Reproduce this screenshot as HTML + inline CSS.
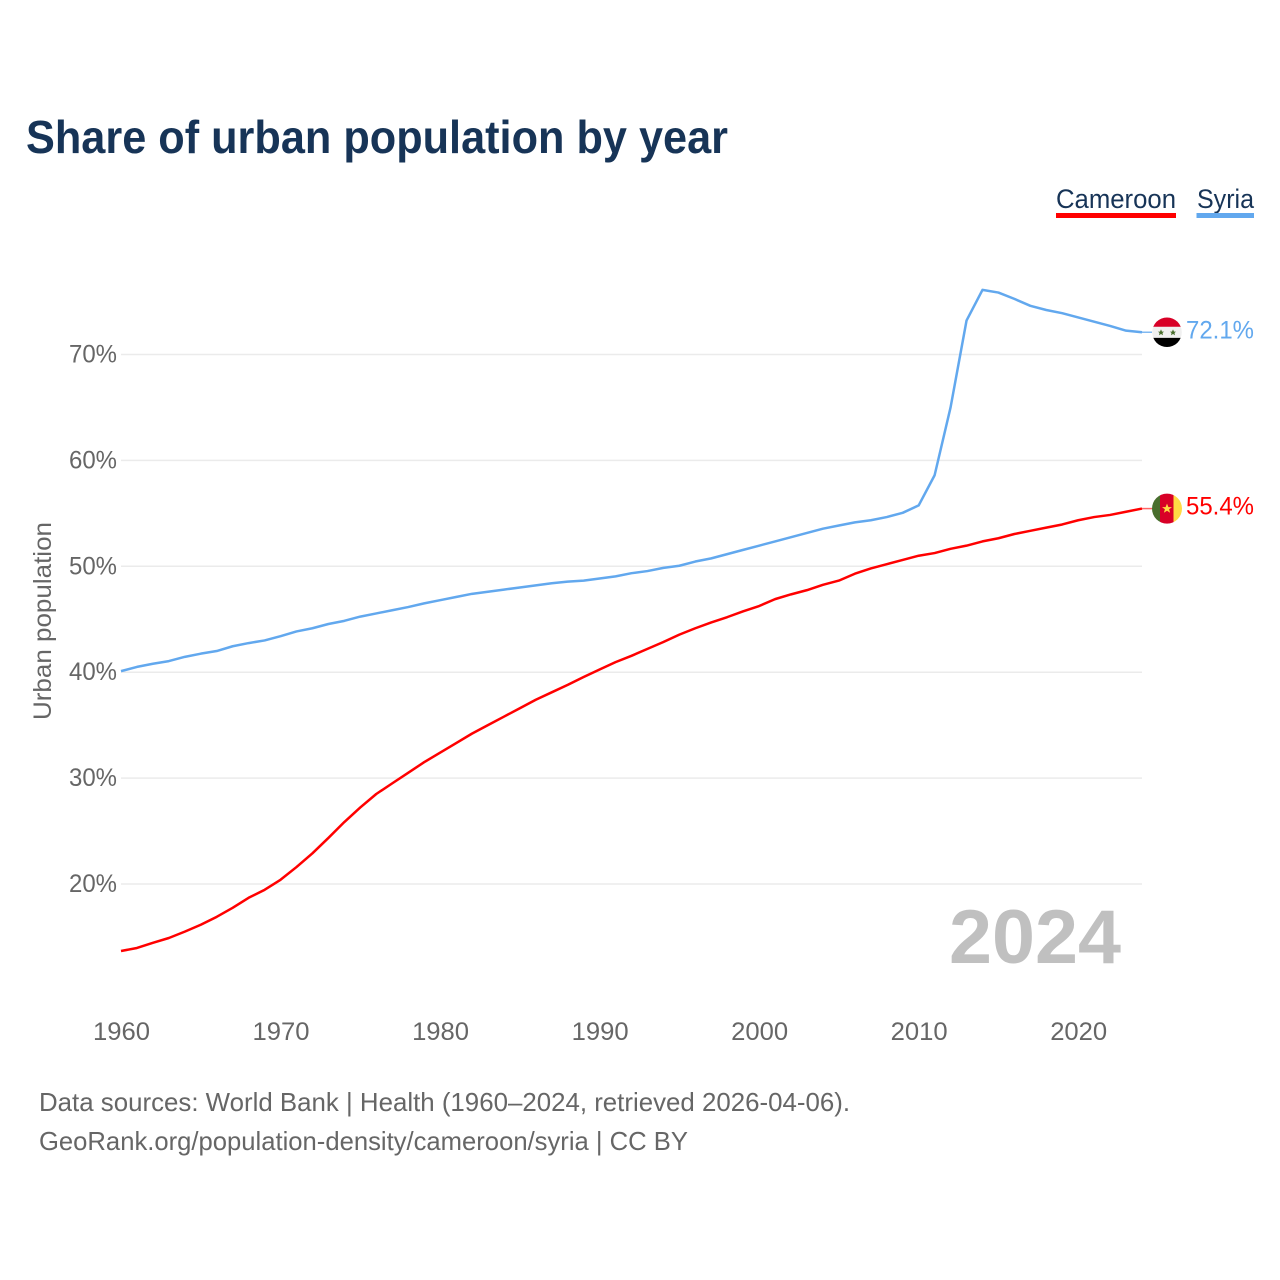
<!DOCTYPE html>
<html>
<head>
<meta charset="utf-8">
<title>Share of urban population by year</title>
<style>
html,body{margin:0;padding:0;background:#fff;}
svg{display:block;font-family:"Liberation Sans",sans-serif;}
</style>
</head>
<body>
<svg id="chart" xmlns="http://www.w3.org/2000/svg" width="1280" height="1280" viewBox="0 0 1280 1280">
  <rect x="0" y="0" width="1280" height="1280" fill="#ffffff"/>
  <text x="26" y="153" font-size="46" font-weight="700" fill="#173457" textLength="702" lengthAdjust="spacingAndGlyphs">Share of urban population by year</text>

  <g>
    <g>
      <text x="1056" y="208" font-size="27" fill="#173457" textLength="120" lengthAdjust="spacingAndGlyphs">Cameroon</text>
      <rect x="1056" y="213" width="120" height="5" fill="#ff0000"/>
    </g>
    <g>
      <text x="1197" y="208" font-size="27" fill="#173457" textLength="57" lengthAdjust="spacingAndGlyphs">Syria</text>
      <rect x="1196.5" y="213" width="57.5" height="5" fill="#62a8ee"/>
    </g>
  </g>

  <g id="grid"></g>
  <g id="yticks"></g>
  <g id="xticks"></g>
  <text transform="translate(51,720) rotate(-90)" font-size="25" fill="#666666" textLength="198" lengthAdjust="spacingAndGlyphs">Urban population</text>

  <text x="949" y="963" font-size="76" font-weight="700" fill="#c0c0c0" textLength="172" lengthAdjust="spacingAndGlyphs">2024</text>

  <g id="series"></g>

  <g id="flag-syria">
    <clipPath id="clip-syria"><circle cx="0" cy="0" r="14.8"/></clipPath>
    <g clip-path="url(#clip-syria)">
      <rect x="-15" y="-16" width="30" height="10.6" fill="#d80027"/>
      <rect x="-15" y="-5.4" width="30" height="11" fill="#f0f0f0"/>
      <rect x="-15" y="5.6" width="30" height="10.4" fill="#000000"/>
    </g>
    <polygon points="-6,-2.9 -5,-0.6 -3,-0.6 -4.5,0.8 -4,3 -6,1.8 -8,3 -7.5,0.8 -9,-0.6 -7,-0.6" fill="#496e2d"/>
    <polygon points="6,-2.9 7,-0.6 9,-0.6 7.5,0.8 8,3 6,1.8 4,3 4.5,0.8 3,-0.6 5,-0.6" fill="#496e2d"/>
  </g>
  <g id="flag-cameroon">
    <clipPath id="clip-cameroon"><circle cx="0" cy="0" r="15"/></clipPath>
    <g clip-path="url(#clip-cameroon)">
      <rect x="-15" y="-16" width="8" height="32" fill="#496e2d"/>
      <rect x="-7" y="-16" width="13.5" height="32" fill="#d80027"/>
      <rect x="6.5" y="-16" width="8.5" height="32" fill="#ffda44"/>
    </g>
    <polygon points="0,-5 1.4,-1.5 5,-1.5 2.1,0.7 3.1,4.2 0,2.2 -3.1,4.2 -2.1,0.7 -5,-1.5 -1.4,-1.5" fill="#ffda44"/>
  </g>
  <text id="value-syria" x="1186" font-size="25" fill="#62a8ee" textLength="68" lengthAdjust="spacingAndGlyphs"></text>
  <text id="value-cameroon" x="1186" font-size="25" fill="#ff0000" textLength="68" lengthAdjust="spacingAndGlyphs"></text>

  <g>
    <text x="39" y="1111" font-size="26" fill="#666666" textLength="811" lengthAdjust="spacingAndGlyphs">Data sources: World Bank | Health (1960–2024, retrieved 2026-04-06).</text>
    <text x="39" y="1150" font-size="26" fill="#666666" textLength="649" lengthAdjust="spacingAndGlyphs">GeoRank.org/population-density/cameroon/syria | CC BY</text>
  </g>
</svg>
<script>
const years = [1960,1961,1962,1963,1964,1965,1966,1967,1968,1969,1970,1971,1972,1973,1974,1975,1976,1977,1978,1979,1980,1981,1982,1983,1984,1985,1986,1987,1988,1989,1990,1991,1992,1993,1994,1995,1996,1997,1998,1999,2000,2001,2002,2003,2004,2005,2006,2007,2008,2009,2010,2011,2012,2013,2014,2015,2016,2017,2018,2019,2020,2021,2022,2023,2024];
const cameroon = [13.67,13.96,14.45,14.9,15.5,16.15,16.9,17.75,18.7,19.45,20.4,21.6,22.9,24.35,25.85,27.23,28.5,29.5,30.5,31.5,32.4,33.3,34.2,35.0,35.8,36.6,37.4,38.1,38.8,39.55,40.26,40.95,41.55,42.2,42.85,43.55,44.15,44.7,45.2,45.75,46.25,46.9,47.35,47.75,48.25,48.65,49.3,49.8,50.2,50.6,51.0,51.25,51.65,51.95,52.35,52.65,53.05,53.35,53.65,53.95,54.35,54.65,54.85,55.15,55.45];
const syria = [40.1,40.5,40.8,41.05,41.45,41.75,42.0,42.45,42.75,43.0,43.4,43.85,44.15,44.55,44.85,45.25,45.55,45.85,46.15,46.5,46.8,47.1,47.4,47.6,47.8,48.0,48.2,48.4,48.55,48.65,48.85,49.05,49.35,49.55,49.85,50.05,50.45,50.75,51.15,51.55,51.95,52.35,52.75,53.15,53.55,53.85,54.15,54.35,54.65,55.05,55.75,58.6,65.0,73.2,76.1,75.85,75.25,74.6,74.2,73.9,73.5,73.1,72.7,72.25,72.1];
const yTickValues = [20,30,40,50,60,70];
const xTickValues = [1960,1970,1980,1990,2000,2010,2020];
const syriaValueLabel = "72.1%";
const cameroonValueLabel = "55.4%";

const NS = "http://www.w3.org/2000/svg";
function xScale(year) { return 121 + (year - 1960) * (1142 - 121) / 64; }
function yScale(v) { return 884 - (v - 20) * (884 - 354.5) / 50; }
function make(tag, attrs, parent) {
  const el = document.createElementNS(NS, tag);
  for (const k in attrs) el.setAttribute(k, attrs[k]);
  parent.appendChild(el);
  return el;
}

const grid = document.getElementById("grid");
const yticks = document.getElementById("yticks");
yTickValues.forEach(function (v) {
  const line = make("line", {x1: 121, x2: 1142, y1: yScale(v), y2: yScale(v), stroke: "#ebebeb", "stroke-width": 1.5}, grid);
  
  
  const label = make("text", {x: 69, y: yScale(v) + 8, "font-size": 25, fill: "#666666", textLength: 48, lengthAdjust: "spacingAndGlyphs"}, yticks);
  label.textContent = v + "%";
  
  
});

const xticks = document.getElementById("xticks");
xTickValues.forEach(function (yr) {
  const label = make("text", {x: xScale(yr) - 28, y: 1040, "font-size": 25, fill: "#666666", textLength: 57, lengthAdjust: "spacingAndGlyphs"}, xticks);
  label.textContent = String(yr);
  
  
});

function pathFor(values) {
  return values.map(function (v, i) {
    return (i ? "L" : "M") + xScale(years[i]).toFixed(2) + " " + yScale(v).toFixed(2);
  }).join(" ");
}
const seriesGroup = document.getElementById("series");

const syriaLine = make("path", {d: pathFor(syria), fill: "none", stroke: "#62a8ee", "stroke-width": 2.5, "stroke-linejoin": "round"}, seriesGroup);



const cameroonLine = make("path", {d: pathFor(cameroon), fill: "none", stroke: "#ff0000", "stroke-width": 2.5, "stroke-linejoin": "round"}, seriesGroup);



const syriaEnd = yScale(syria[syria.length - 1]);
const cameroonEnd = yScale(cameroon[cameroon.length - 1]);

const syriaStub = make("line", {x1: 1142, x2: 1152, y1: syriaEnd, y2: syriaEnd, stroke: "#62a8ee", "stroke-width": 1.5, opacity: 0.8}, seriesGroup);



const cameroonStub = make("line", {x1: 1142, x2: 1152, y1: cameroonEnd, y2: cameroonEnd, stroke: "#ff0000", "stroke-width": 1.5, opacity: 0.6}, seriesGroup);



document.getElementById("flag-syria").setAttribute("transform", "translate(1167," + syriaEnd + ")");
document.getElementById("flag-cameroon").setAttribute("transform", "translate(1167," + cameroonEnd + ")");

const syriaValue = document.getElementById("value-syria");
syriaValue.setAttribute("y", syriaEnd + 6);
syriaValue.textContent = syriaValueLabel;
const cameroonValue = document.getElementById("value-cameroon");
cameroonValue.setAttribute("y", cameroonEnd + 6);
cameroonValue.textContent = cameroonValueLabel;
</script>
</body>
</html>
